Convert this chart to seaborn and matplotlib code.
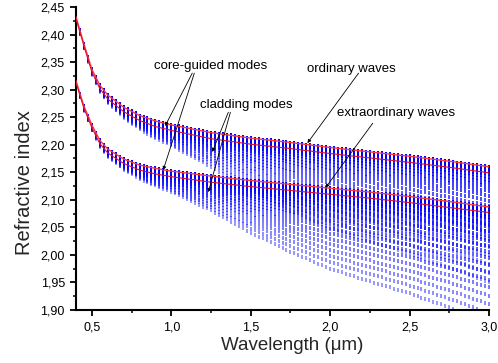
import matplotlib
matplotlib.use("Agg")
import matplotlib.pyplot as plt
import matplotlib.ticker as mtick
import seaborn as sns
import numpy as np
import pandas as pd

# -------------------------------------------------
# Values
# -------------------------------------------------
wl_anchor = [0.40, 0.45, 0.50, 0.55, 0.60, 0.70, 0.80, 0.90, 1.00,
             1.25, 1.50, 1.75, 2.00, 2.25, 2.50, 2.75, 3.00]

# bulk indices (upper red lines)
n_ordinary = [2.432, 2.383, 2.337, 2.308, 2.290, 2.268, 2.253, 2.243, 2.236,
              2.222, 2.212, 2.204, 2.195, 2.187, 2.179, 2.170, 2.160]
n_extraordinary = [2.316, 2.270, 2.236, 2.208, 2.192, 2.174, 2.163, 2.157, 2.152,
                   2.143, 2.135, 2.128, 2.121, 2.114, 2.106, 2.097, 2.087]

# core-guided modes (second red line just below each bulk line)
n_ordinary_core = [2.429, 2.379, 2.332, 2.302, 2.283, 2.260, 2.244, 2.233, 2.226,
                   2.211, 2.201, 2.193, 2.184, 2.176, 2.168, 2.159, 2.149]
n_extraordinary_core = [2.313, 2.266, 2.231, 2.202, 2.185, 2.166, 2.154, 2.147, 2.142,
                        2.132, 2.124, 2.117, 2.110, 2.103, 2.095, 2.086, 2.077]

# depth of the deepest cladding mode below the bulk index
fan_depth = [0.006, 0.008, 0.010, 0.012, 0.014, 0.019, 0.025, 0.031, 0.037,
             0.062, 0.095, 0.122, 0.146, 0.162, 0.176, 0.192, 0.210]

# relative depth of each cladding mode inside the fan
mode_frac = [0.002, 0.007, 0.016, 0.028, 0.043, 0.063, 0.085, 0.111, 0.141, 0.174,
             0.210, 0.250, 0.293, 0.340, 0.391, 0.444, 0.502, 0.563, 0.627, 0.694,
             0.766, 0.840, 0.918, 1.000]

# wavelengths at which the modes were computed (vertical columns of dots)
wl_columns = np.arange(0.40, 3.001, 0.025)

x_ticks = [0.5, 1.0, 1.5, 2.0, 2.5, 3.0]
y_ticks = [1.90, 1.95, 2.00, 2.05, 2.10, 2.15, 2.20, 2.25, 2.30, 2.35, 2.40, 2.45]

# -------------------------------------------------
# Build the cladding-mode table
# -------------------------------------------------
rows = []
depth_col = np.interp(wl_columns, wl_anchor, fan_depth)
for family, bulk in (("o", n_ordinary), ("e", n_extraordinary)):
    bulk_col = np.interp(wl_columns, wl_anchor, bulk)
    for k, f in enumerate(mode_frac):
        for wl, nb, d in zip(wl_columns, bulk_col, depth_col):
            rows.append((family, k, wl, nb - f * d))
df_modes = pd.DataFrame(rows, columns=["family", "mode", "wavelength", "n"])
df_modes = df_modes[df_modes["n"] >= 1.9]

# -------------------------------------------------
# Figure
# -------------------------------------------------
sns.set_theme(style="ticks")
plt.rcParams["font.family"] = ["Liberation Sans", "DejaVu Sans"]

fig = plt.figure(figsize=(4.98, 3.63), dpi=100)
ax = fig.add_axes([76 / 498, 1 - 310 / 363, 413 / 498, 303 / 363])

# thin vertical dash used for every cladding mode sample
dash = [(-0.5, -1.5), (0.5, -1.5), (0.5, 1.5), (-0.5, 1.5)]

# cladding modes: blue dashes, fainter for higher order modes
n_modes = len(mode_frac)
for k in range(n_modes):
    sub = df_modes[df_modes["mode"] == k]
    sns.scatterplot(data=sub, x="wavelength", y="n", ax=ax, color="#0000ff",
                    marker=dash, s=7, linewidth=0,
                    alpha=1.0 - 0.6 * k / (n_modes - 1), legend=False, zorder=2)

# red curves
for vals, col, lw in ((n_ordinary, "#ff3a3a", 1.0), (n_extraordinary, "#ff3a3a", 1.0),
                      (n_ordinary_core, "#e0102a", 0.8), (n_extraordinary_core, "#e0102a", 0.8)):
    sns.lineplot(x=wl_anchor, y=vals, ax=ax, color=col, linewidth=lw,
                 sort=False, estimator=None, zorder=3)

# -------------------------------------------------
# Annotations
# -------------------------------------------------
arrow = dict(arrowstyle="-|>", color="black", lw=0.6, mutation_scale=5,
             shrinkA=0, shrinkB=0)
txt = dict(fontsize=9.5, ha="center", va="center", color="black")

ax.text(1.245, 2.343, "core-guided modes", **txt)
ax.annotate("", xy=(0.961, 2.234), xytext=(1.132, 2.330), arrowprops=arrow)
ax.annotate("", xy=(0.949, 2.154), xytext=(1.145, 2.330), arrowprops=arrow)

ax.text(1.473, 2.272, "cladding modes", **txt)
ax.annotate("", xy=(1.258, 2.187), xytext=(1.359, 2.259), arrowprops=arrow)
ax.annotate("", xy=(1.233, 2.114), xytext=(1.372, 2.259), arrowprops=arrow)

ax.text(2.135, 2.337, "ordinary waves", **txt)
ax.annotate("", xy=(1.857, 2.203), xytext=(2.179, 2.330), arrowprops=arrow)

ax.text(2.413, 2.258, "extraordinary waves", **txt)
ax.annotate("", xy=(1.971, 2.122), xytext=(2.268, 2.239), arrowprops=arrow)

# -------------------------------------------------
# Axes formatting
# -------------------------------------------------
ax.set_xlim(0.4, 3.0)
ax.set_ylim(1.90, 2.45)
ax.set_xticks(x_ticks)
ax.set_yticks(y_ticks)
ax.xaxis.set_minor_locator(mtick.MultipleLocator(0.25))
ax.yaxis.set_minor_locator(mtick.MultipleLocator(0.025))
ax.xaxis.set_major_formatter(mtick.FuncFormatter(lambda v, _: f"{v:.1f}".replace(".", ",")))
ax.yaxis.set_major_formatter(mtick.FuncFormatter(lambda v, _: f"{v:.2f}".replace(".", ",")))

for side in ("top", "right"):
    ax.spines[side].set_visible(False)
for side in ("left", "bottom"):
    ax.spines[side].set_linewidth(1.5)
    ax.spines[side].set_color("black")

ax.tick_params(which="major", direction="out", length=4, width=1.3,
               labelsize=9, colors="black", pad=4)
ax.tick_params(which="minor", direction="out", length=2.5, width=1.1, colors="black")
ax.grid(False)

ax.set_xlabel("Wavelength (\u03bcm)", fontsize=13.5, va="center")
ax.set_ylabel("Refractive index", fontsize=14.5, va="center")
ax.xaxis.set_label_coords(0.524, -0.116)
ax.yaxis.set_label_coords(-0.125, 0.42)

fig.savefig("out.png", dpi=100)
